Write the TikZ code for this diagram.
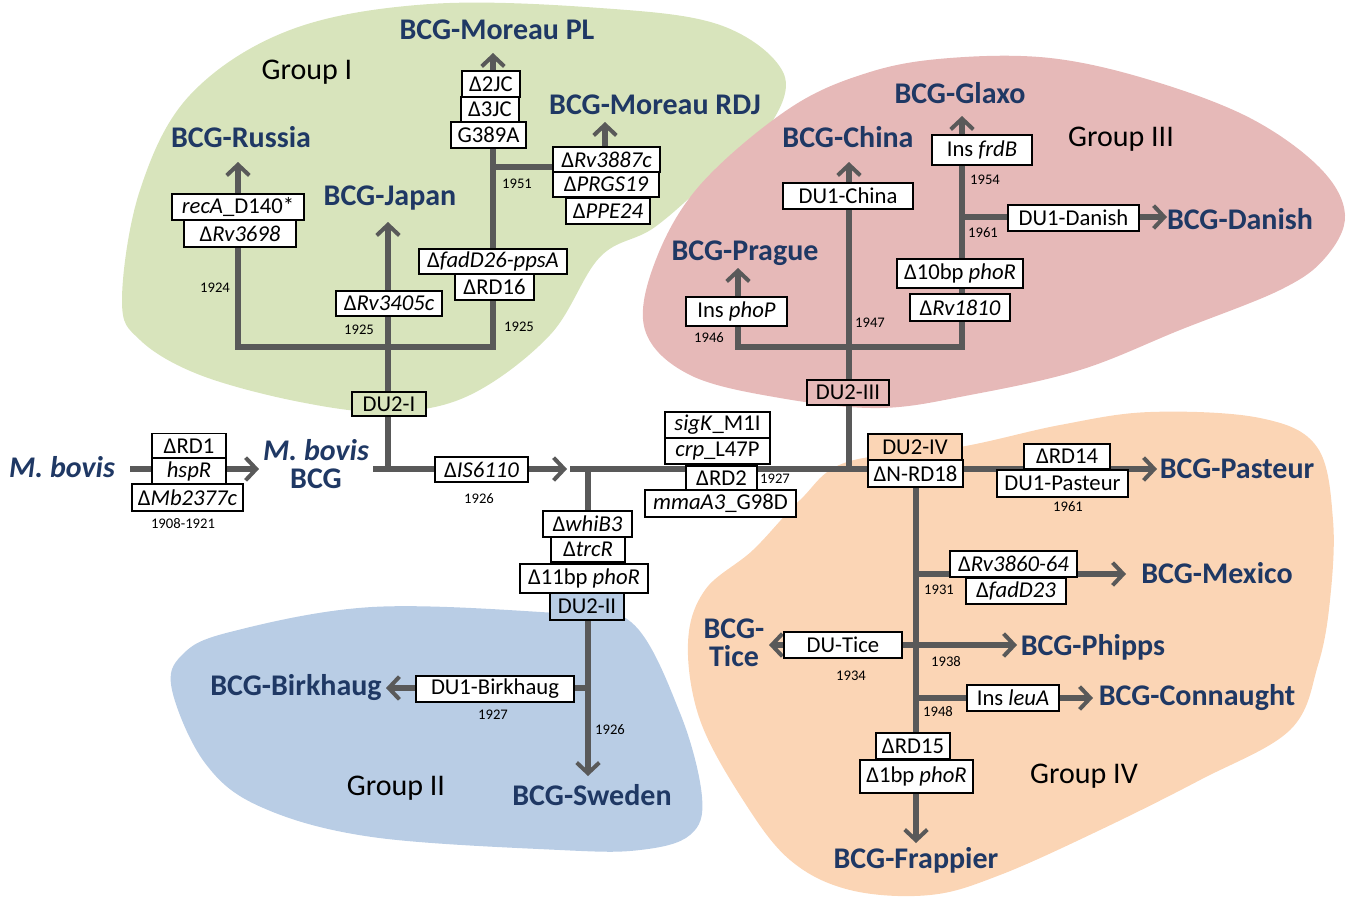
\documentclass[tikz,border=0pt]{standalone}
\usepackage{fontspec}
\setmainfont{Carlito}
\usetikzlibrary{arrows.meta}
\definecolor{lbl}{HTML}{1F3864}
\definecolor{ln}{HTML}{595959}
\definecolor{gI}{HTML}{D8E4BC}
\definecolor{gII}{HTML}{B9CDE5}
\definecolor{gIII}{HTML}{E6B9B8}
\definecolor{gIV}{HTML}{FBD5B5}
\pgfdeclarelayer{bg}
\pgfdeclarelayer{lines}
\pgfsetlayers{bg,lines,main}
\begin{document}
\begin{tikzpicture}[x=0.75pt,y=-0.75pt,
 mbox/.style={draw=black,line width=0.9pt,fill=white,font=\fontsize{17}{19}\selectfont,inner sep=0pt,align=center},
 wh/.style 2 args={minimum width=#1*0.75pt,minimum height=#2*0.75pt},
 strain/.style={font=\fontsize{22.5}{21}\selectfont\bfseries,text=lbl,inner sep=0pt,align=center},
 grp/.style={font=\fontsize{22.5}{24}\selectfont,inner sep=0pt},
 yr/.style={font=\fontsize{11}{12}\selectfont,inner sep=0pt},
 conn/.style={draw=ln,line width=4.5pt},
 arr/.style={conn,-{Straight Barb[length=8pt,width=17pt,line width=3pt]}},
]
\useasboundingbox (0,0) rectangle (1349,897);

% ---------- group areas ----------
\begin{pgfonlayer}{bg}
\fill[gI] plot[smooth cycle,tension=0.6] coordinates {(122,300) (140,190) (190,95) (290,30) (430,4) (600,8) (720,25) (783,72) (770,125) (720,170) (655,227) (600,257) (550,335) (470,395) (390,412) (300,402) (200,375) (140,340)};
\fill[gIII] plot[smooth cycle,tension=0.6] coordinates {(645,330) (655,262) (700,185) (790,108) (870,72) (950,58) (1050,58) (1150,80) (1250,118) (1320,168) (1345,215) (1325,258) (1280,290) (1180,330) (1080,370) (970,395) (880,408) (780,398) (690,375)};
\fill[gIV] plot[smooth cycle,tension=0.6] coordinates {(688,643) (705,590) (753,550) (800,500) (847,462) (960,447) (1060,425) (1150,412) (1260,418) (1317,447) (1333,520) (1330,600) (1318,665) (1290,730) (1200,780) (1100,830) (1000,875) (930,895) (850,890) (790,860) (743,800) (700,720)};
\fill[gII] plot[smooth cycle,tension=0.6] coordinates {(172,690) (182,655) (230,632) (372,607) (557,613) (631,622) (680,713) (702,797) (690,835) (640,850) (560,850) (372,837) (261,807) (205,763)};
\end{pgfonlayer}

% ---------- strain labels ----------
\node[strain] (mbovis) at (62,467) {\textit{M. bovis}};
\node[strain] (mbbcg) at (316,464) {\textit{M. bovis}\\BCG};
\node[strain] (russia) at (241,137) {BCG-Russia};
\node[strain] (japan) at (390,198) {BCG-Japan};
\node[strain] (moreaupl) at (497,30) {BCG-Moreau PL};
\node[strain] (moreaurdj) at (655,105) {BCG-Moreau RDJ};
\node[strain] (china) at (848,137) {BCG-China};
\node[strain] (glaxo) at (960,93) {BCG-Glaxo};
\node[strain] (prague) at (745,253) {BCG-Prague};
\node[strain] (danish) at (1240,219) {BCG-Danish};
\node[strain] (pasteur) at (1237,469) {BCG-Pasteur};
\node[strain] (mexico) at (1217,573) {BCG-Mexico};
\node[strain] (phipps) at (1093,647) {BCG-Phipps};
\node[strain] (connaught) at (1197,698) {BCG-Connaught};
\node[strain] (tice) at (734,643) {BCG-\\Tice};
\node[strain] (frappier) at (916,860) {BCG-Frappier};
\node[strain] (birkhaug) at (296,688) {BCG-Birkhaug};
\node[strain] (sweden) at (592,795) {BCG-Sweden};

% ---------- group labels ----------
\node[grp] (grpI) at (307,72) {Group I};
\node[grp] (grpII) at (396,788) {Group II};
\node[grp] (grpIII) at (1121,139) {Group III};
\node[grp] (grpIV) at (1084,776) {Group IV};

% ---------- junctions and tips ----------
\coordinate (mbA) at (130,469); \coordinate (mbT) at (259,469);
\coordinate (tB0) at (373,469); \coordinate (tBT) at (567,469);
\coordinate (jI) at (388,469); \coordinate (japT) at (388,222);
\coordinate (gIL) at (238,347); \coordinate (gIR) at (493,347);
\coordinate (rusT) at (238,162); \coordinate (plT) at (493,53);
\coordinate (j1951) at (493,167); \coordinate (rdjT) at (605,122);
\coordinate (tC0) at (570,469); \coordinate (pastT) at (1157,469);
\coordinate (jII) at (588,469); \coordinate (sweT) at (588,776);
\coordinate (jBirk) at (588,688); \coordinate (birkT) at (386,688);
\coordinate (jIII) at (849,469); \coordinate (chinaT) at (849,162);
\coordinate (gIIIL) at (738,347); \coordinate (gIIIR) at (962,347);
\coordinate (pragT) at (738,268); \coordinate (glaxT) at (962,116);
\coordinate (jDan) at (962,217); \coordinate (danT) at (1167,217);
\coordinate (jIV) at (916,469); \coordinate (frapT) at (916,843);
\coordinate (jMex) at (916,574); \coordinate (mexT) at (1126,574);
\coordinate (ticeT) at (769,645); \coordinate (phipT) at (1017,645);
\coordinate (jTice) at (916,645);
\coordinate (jCon) at (916,698); \coordinate (conT) at (1093,698);

% ---------- connectors ----------
\begin{pgfonlayer}{lines}
\draw[arr] (mbA) -- (mbT);
\draw[arr] (tB0) -- (tBT);
\draw[arr] (jI) -- (japT);
\draw[arr] (gIR) -- (gIL) -- (rusT);
\draw[arr] (gIL) -- (gIR) -- (plT);
\draw[arr] (j1951) -| (rdjT);
\draw[arr] (tC0) -- (pastT);
\draw[arr] (jII) -- (sweT);
\draw[arr] (jBirk) -- (birkT);
\draw[arr] (jIII) -- (chinaT);
\draw[arr] (gIIIR) -- (gIIIL) -- (pragT);
\draw[arr] (gIIIL) -- (gIIIR) -- (glaxT);
\draw[arr] (jDan) -- (danT);
\draw[arr] (jIV) -- (frapT);
\draw[arr] (jMex) -- (mexT);
\draw[arr] (jTice) -- (ticeT);
\draw[arr] (jTice) -- (phipT);
\draw[arr] (jCon) -- (conT);
\end{pgfonlayer}

% ---------- mutation boxes ----------
% trunk
\node[mbox,wh={74}{25}] (rd1) at (189,446) {ΔRD1};
\node[mbox,wh={74}{26}] (hspr) at (189,471) {\textit{hspR}};
\node[mbox,wh={111}{27}] (mb2377) at (187.5,497.5) {Δ\textit{Mb2377c}};
\node[mbox,wh={74}{24},fill=gI] (du2i) at (389,404) {DU2-I};
\node[mbox,wh={93}{25}] (is6110) at (481.5,469.5) {Δ\textit{IS6110}};
\node[mbox,wh={105}{26}] (sigk) at (717.5,425) {\textit{sigK}\_M1I};
\node[mbox,wh={105}{26}] (crp) at (717.5,451) {\textit{crp}\_L47P};
\node[mbox,wh={71}{24}] (rd2) at (721.5,478) {ΔRD2};
\node[mbox,wh={151}{27}] (mmaa3) at (720.5,503.5) {\textit{mmaA3}\_G98D};
% group I
\node[mbox,wh={132}{26}] (reca) at (238,207) {\textit{recA}\_D140*};
\node[mbox,wh={112}{27}] (rv3698) at (240,233.5) {Δ\textit{Rv3698}};
\node[mbox,wh={106}{25}] (rv3405) at (389,303.5) {Δ\textit{Rv3405c}};
\node[mbox,wh={148}{25}] (fadd26) at (493,261.5) {Δ\textit{fadD26-ppsA}};
\node[mbox,wh={79}{26}] (rd16) at (494.5,287) {ΔRD16};
\node[mbox,wh={75}{26}] (g389a) at (488.5,135) {G389A};
\node[mbox,wh={58}{25}] (jc3) at (490,109.5) {Δ3JC};
\node[mbox,wh={58}{26}] (jc2) at (491,84) {Δ2JC};
\node[mbox,wh={107}{25}] (rv3887) at (606.5,159.5) {Δ\textit{Rv3887c}};
\node[mbox,wh={106}{25}] (prgs19) at (606,184.5) {Δ\textit{PRGS19}};
\node[mbox,wh={84}{26}] (ppe24) at (608,211) {Δ\textit{PPE24}};
% group II
\node[mbox,wh={89}{26}] (whib3) at (587.5,524) {Δ\textit{whiB3}};
\node[mbox,wh={74}{25}] (trcr) at (588,549.5) {Δ\textit{trcR}};
\node[mbox,wh={128}{29}] (bp11) at (584,578.5) {Δ11bp \textit{phoR}};
\node[mbox,wh={74}{27},fill=gII] (du2ii) at (587,606.5) {DU2-II};
\node[mbox,wh={158}{26}] (du1birk) at (495,689) {DU1-Birkhaug};
% group III
\node[mbox,wh={82}{25},fill=gIII] (du2iii) at (848,392.5) {DU2-III};
\node[mbox,wh={130}{26}] (du1china) at (848,196) {DU1-China};
\node[mbox,wh={101}{29}] (phop) at (736.5,311.5) {Ins \textit{phoP}};
\node[mbox,wh={126}{29}] (bp10) at (960,273.5) {Δ10bp \textit{phoR}};
\node[mbox,wh={100}{27}] (rv1810) at (960,307.5) {Δ\textit{Rv1810}};
\node[mbox,wh={100}{30}] (frdb) at (982,150) {Ins \textit{frdB}};
\node[mbox,wh={131}{26}] (du1dan) at (1073.5,218) {DU1-Danish};
% group IV
\node[mbox,wh={94}{26},fill=gIV] (du2iv) at (915,447) {DU2-IV};
\node[mbox,wh={95}{27}] (nrd18) at (915.5,473.5) {ΔN-RD18};
\node[mbox,wh={86}{25}] (rd14) at (1067,456.5) {ΔRD14};
\node[mbox,wh={131}{27}] (du1past) at (1062.5,483.5) {DU1-Pasteur};
\node[mbox,wh={127}{26}] (rv3860) at (1013.5,564) {Δ\textit{Rv3860-64}};
\node[mbox,wh={100}{26}] (fadd23) at (1016,591) {Δ\textit{fadD23}};
\node[mbox,wh={118}{26}] (dutice) at (843,645) {DU-Tice};
\node[mbox,wh={92}{26}] (leua) at (1013,698) {Ins \textit{leuA}};
\node[mbox,wh={74}{26}] (rd15) at (913,746) {ΔRD15};
\node[mbox,wh={113}{33}] (bp1) at (916.5,776.5) {Δ1bp \textit{phoR}};

% ---------- years ----------
\node[yr] (y1908) at (183,524) {1908-1921};
\node[yr] (y1926a) at (479,499) {1926};
\node[yr] (y1924) at (215,288) {1924};
\node[yr] (y1925a) at (359,330) {1925};
\node[yr] (y1925b) at (519,327) {1925};
\node[yr] (y1951) at (517,184) {1951};
\node[yr] (y1927a) at (775,479) {1927};
\node[yr] (y1927b) at (493,715) {1927};
\node[yr] (y1926b) at (610,730) {1926};
\node[yr] (y1947) at (870,323) {1947};
\node[yr] (y1946) at (709,338) {1946};
\node[yr] (y1954) at (985,180) {1954};
\node[yr] (y1961a) at (983,233) {1961};
\node[yr] (y1961b) at (1068,507) {1961};
\node[yr] (y1931) at (939,590) {1931};
\node[yr] (y1934) at (851,676) {1934};
\node[yr] (y1938) at (946,662) {1938};
\node[yr] (y1948) at (938,712) {1948};
\end{tikzpicture}
\end{document}
